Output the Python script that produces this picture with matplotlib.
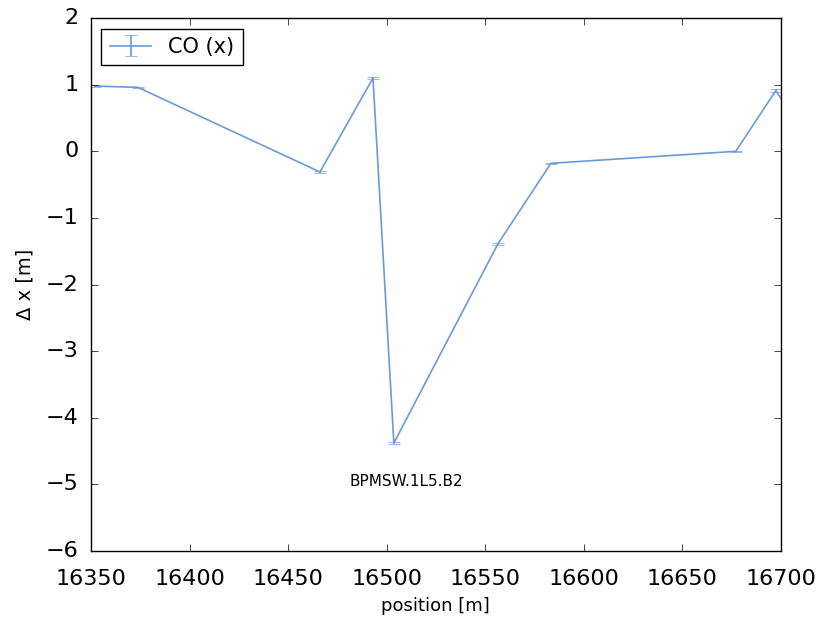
import numpy as np
from matplotlib import pyplot as plt

plt.style.use('classic')
plt.rcParams['figure.facecolor'] = 'white'
plt.rcParams['savefig.facecolor'] = 'white'

# closed orbit at the BPMs around IP5
position = [16352.0, 16373.8, 16466.2, 16493.1, 16503.7, 16556.5, 16583.4, 16677.2, 16697.5, 16720.0]
dx = [0.98, 0.96, -0.31, 1.10, -4.38, -1.39, -0.18, 0.00, 0.91, -0.07]
dx_err = [0.01, 0.01, 0.01, 0.02, 0.02, 0.01, 0.01, 0.01, 0.02, 0.01]

bpm_name = 'BPMSW.1L5.B2'
bpm_label_pos = (16510.0, -4.95)

fig = plt.figure(figsize=(8.27, 6.24), dpi=100)
ax = fig.add_axes([0.110, 0.117, 0.834, 0.854])

ax.errorbar(position, dx, yerr=dx_err, color='#6a9bd8', ecolor='#6a9bd8',
            lw=1.2, capsize=4, label='CO (x)')

ax.text(bpm_label_pos[0], bpm_label_pos[1], bpm_name, ha='center', va='center', fontsize=11)

ax.set_xlim(16350, 16700)
ax.set_ylim(-6, 2)
ax.set_xticks(np.arange(16350, 16701, 50))
ax.set_yticks(np.arange(-6, 3, 1))
ax.ticklabel_format(useOffset=False)
ax.tick_params(labelsize=16, length=5)
ax.tick_params(axis='x', pad=13)
ax.tick_params(axis='y', pad=9)
ax.set_xlabel('position [m]', fontsize=13, labelpad=6)
ax.set_ylabel('Δ x [m]', fontsize=14, labelpad=8)

ax.legend(loc='upper left', numpoints=1, fontsize=15, fancybox=False)

plt.savefig('out.png', dpi=100)
